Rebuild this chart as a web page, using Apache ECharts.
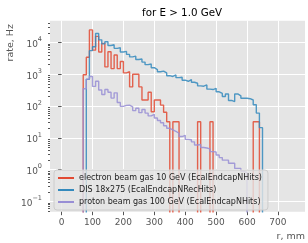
<!DOCTYPE html>
<html><head><meta charset="utf-8">
<script src="https://cdn.jsdelivr.net/npm/echarts@6/dist/echarts.min.js"></script>
<style>html,body{margin:0;padding:0;background:#fff}#c{width:308px;height:243px}</style>
</head><body><div id="c"></div>
<script>
const titleText = 'for E > 1.0 GeV';
const yLabel = 'rate, Hz';
const xLabel = 'r, mm';
const seriesNames = [
  'electron beam gas 10 GeV (EcalEndcapNHits)',
  'DIS 18x275 (EcalEndcapNRecHits)',
  'proton beam gas 100 GeV (EcalEndcapNHits)'
];
const seriesColors = ['#E24A33', '#348ABD', '#988ED5'];
const binWidth = 10;
// electron beam gas: bins from 70 mm
const electronStart = 70;
const electronRate = [960, 3400, 24700, 5700, 15500, 5000, 9300, 1700, 5100, 1500,
  4000, 1500, 2500, 1100, 1200, 400, 1000, 1000, 400, 155,
  155, 270, 66, 155, 155, 107, 64, 32, 0, 32,
  32, 0, 0, 0, 0, 0, 0, 32, 0, 0,
  0, 32, 0, 0, 0, 0, 0, 0, 0, 0,
  0, 0, 0, 0, 0, 32, 32];
// DIS: bins from 80 mm
const disStart = 80;
const disRate = [690, 5500, 7300, 19000, 12000, 9000, 10500, 8000, 8500, 6500,
  6800, 5000, 5200, 4200, 3500, 3700, 2900, 3000, 2400, 2000,
  2100, 1600, 1400, 1200, 1250, 1100, 900, 850, 950, 780,
  800, 650, 600, 680, 560, 520, 430, 420, 460, 340,
  330, 360, 280, 250, 200, 240, 150, 138, 240, 210,
  175, 175, 170, 155, 110, 60, 21];
// proton beam gas: bins from 70 mm
const protonStart = 70;
const protonRate = [350, 700, 850, 415, 600, 320, 230, 330, 270, 178,
  260, 130, 98, 105, 107, 95, 72, 85, 62, 78,
  60, 49, 55, 42, 35, 30, 24, 20, 18, 16,
  14, 11, 12, 9, 8.7, 7.5, 6, 6.2, 5, 4.8,
  4.5, 3.7, 3.6, 2.9, 2.4, 2.0, 2.0, 1.6, 1.6, 1.1,
  1.1, 0.9, 0.8];
const xTicks = [0, 100, 200, 300, 400, 500, 600, 700, 800];
const yTicks = [0.1, 1, 10, 100, 1000, 10000];

const FLOOR = 1e-4; // zero counts fall below the axis (log scale)
function steps(start, vals) {
  const d = [[start, FLOOR]];
  vals.forEach((v, i) => d.push([start + i * binWidth, v > 0 ? v : FLOOR]));
  const end = start + vals.length * binWidth;
  const last = vals[vals.length - 1];
  d.push([end, last > 0 ? last : FLOOR]);
  d.push([end, FLOOR]);
  return d;
}
const yMinor = [];
for (let e = -2; e <= 4; e++) for (let m = 2; m <= 9; m++) {
  const v = +(m * Math.pow(10, e)).toPrecision(3);
  if (v > 0.048 && v < 48000) yMinor.push(v);
}
const FF = '"DejaVu Sans", sans-serif';
const chart = echarts.init(document.getElementById('c'), null, {renderer: 'canvas'});
const starts = [electronStart, disStart, protonStart];
const rates = [electronRate, disRate, protonRate];
chart.setOption({
  animation: false,
  textStyle: {fontFamily: FF},
  title: {text: titleText, left: 137, top: 3,
    textStyle: {fontSize: 10.3, fontWeight: 'normal', color: '#000', fontFamily: FF}},
  grid: {left: 50, right: 0, top: 20.7, bottom: 31.3, show: true,
    backgroundColor: '#E5E5E5', borderWidth: 0},
  xAxis: {type: 'value', min: -37.5, max: 787.5,
    axisLine: {show: false},
    axisTick: {show: true, length: 3.5, lineStyle: {color: '#555'}, customValues: xTicks},
    axisLabel: {customValues: xTicks, color: '#555', fontSize: 9, margin: 6, fontFamily: FF},
    splitLine: {show: true, lineStyle: {color: '#fff', width: 1}},
    name: xLabel, nameLocation: 'end', nameGap: 0,
    nameTextStyle: {align: 'right', verticalAlign: 'top', padding: [20, 0, 0, 0],
      fontSize: 9.5, color: '#555', fontFamily: FF}},
  yAxis: [{type: 'log', logBase: 10, min: 0.048, max: 48000,
    axisLine: {show: false},
    axisTick: {show: true, length: 3.5, lineStyle: {color: '#555'}, customValues: yTicks},
    axisLabel: {customValues: yTicks, margin: 8, color: '#555',
      formatter: v => {
        const e = Math.round(Math.log10(v));
        return '{b|10}{s|' + (e < 0 ? '\u2212' : '') + Math.abs(e) + '}';
      },
      rich: {b: {fontSize: 9, color: '#555', fontFamily: FF, verticalAlign: 'bottom', lineHeight: 13},
             s: {fontSize: 6.5, color: '#555', fontFamily: FF, verticalAlign: 'top', lineHeight: 8}}},
    splitLine: {show: true, lineStyle: {color: '#fff', width: 1}}},
   {type: 'log', logBase: 10, min: 0.048, max: 48000, position: 'left',
    axisLine: {show: false},
    axisTick: {show: true, length: 2, lineStyle: {color: '#555'}, customValues: yMinor},
    axisLabel: {show: false}, splitLine: {show: false}}],
  legend: {data: seriesNames.map(n => ({name: n, icon: 'rect'})), orient: 'vertical',
    left: 54, top: 170, itemWidth: 16, itemHeight: 2, itemGap: 2,
    padding: [3, 6, 3, 4], backgroundColor: 'rgba(229,229,229,0.8)',
    borderColor: '#cccccc', borderWidth: 1, borderRadius: 3, selectedMode: false,
    textStyle: {fontSize: 8, color: '#222', fontFamily: FF, lineHeight: 10}},
  graphic: [{type: 'text', x: 11, y: 24, rotation: Math.PI / 2,
    style: {text: yLabel, fontSize: 9.5, fontFamily: FF, fill: '#555',
      align: 'right', verticalAlign: 'middle'}}],
  series: seriesNames.map((n, i) => ({
    name: n, type: 'line', step: 'end', symbol: 'none', showSymbol: false,
    yAxisIndex: 0, clip: true,
    data: steps(starts[i], rates[i]),
    lineStyle: {width: 1.4, color: seriesColors[i], opacity: 0.85},
    itemStyle: {color: seriesColors[i]}
  }))
});
</script></body></html>
